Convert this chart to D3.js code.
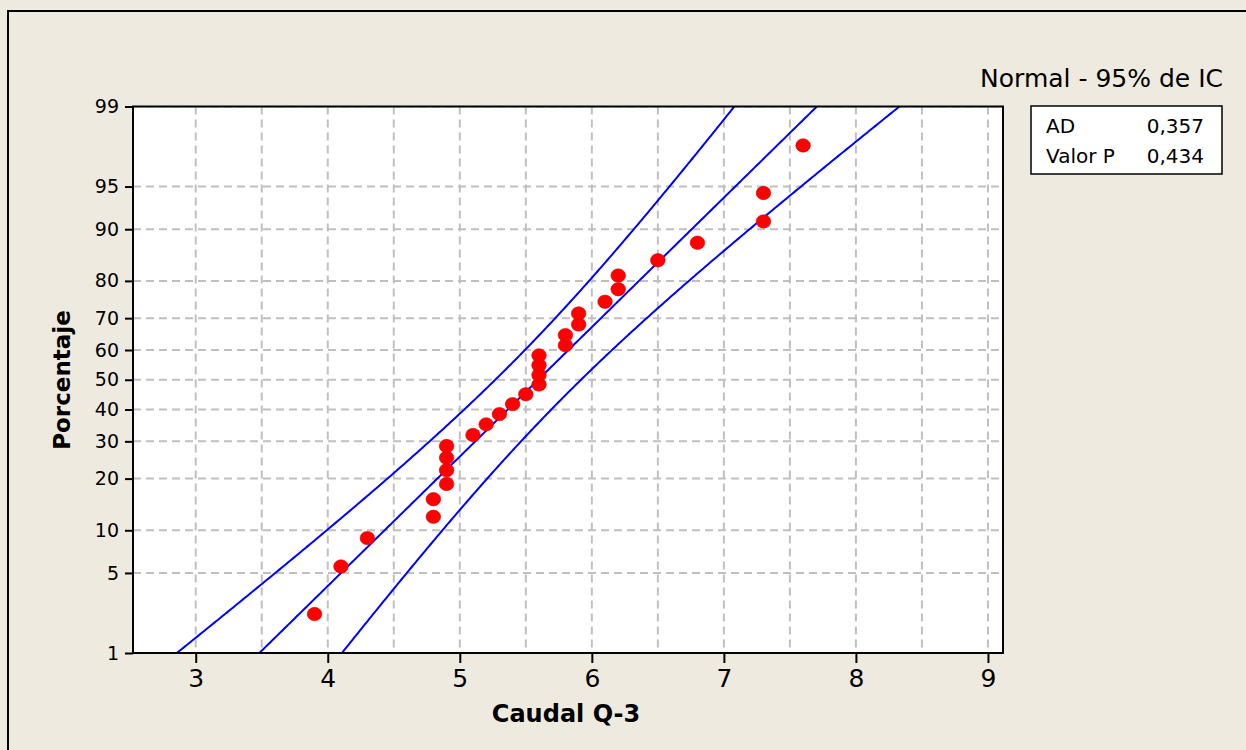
<!DOCTYPE html>
<html>
<head>
<meta charset="utf-8">
<script src="https://cdn.jsdelivr.net/npm/d3@7"></script>
<style>
  html, body { margin: 0; padding: 0; background: #eeeae0; }
  svg { display: block; }
  text { font-family: "DejaVu Sans", Verdana, sans-serif; fill: #000; }
</style>
</head>
<body>
<script>
// Caudal Q-3 observations (sorted)
const caudal = [3.9, 4.1, 4.3, 4.8, 4.8, 4.9, 4.9, 4.9, 4.9, 5.1,
                5.2, 5.3, 5.4, 5.5, 5.6, 5.6, 5.6, 5.6, 5.8, 5.8,
                5.9, 5.9, 6.1, 6.2, 6.2, 6.5, 6.8, 7.3, 7.3, 7.6];
const xTicks = [3, 4, 5, 6, 7, 8, 9];
const xGridStep = 0.5;
const pctTicks = [1, 5, 10, 20, 30, 40, 50, 60, 70, 80, 90, 95, 99];
const statNames = ["AD", "Valor P"];
const statValues = ["0,357", "0,434"];
const titleText = "Normal - 95% de IC";
const xLabel = "Caudal Q-3";
const yLabel = "Porcentaje";
const confLevel = 0.95;

// Inverse of the standard normal CDF (Acklam's rational approximation)
function probit(p) {
  const a = [-3.969683028665376e+01, 2.209460984245205e+02, -2.759285104469687e+02,
             1.383577518672690e+02, -3.066479806614716e+01, 2.506628277459239e+00];
  const b = [-5.447609879822406e+01, 1.615858368580409e+02, -1.556989798598866e+02,
             6.680131188771720e+01, -1.328068155288572e+01];
  const c = [-7.784894002430293e-03, -3.223964580411365e-01, -2.400758277161838e+00,
             -2.549732539343734e+00, 4.374664141464968e+00, 2.938163982698783e+00];
  const d = [7.784695709041462e-03, 3.224671290700398e-01, 2.445134137142996e+00,
             3.754408661907416e+00];
  const plow = 0.02425, phigh = 1 - plow;
  let q, r;
  if (p < plow) {
    q = Math.sqrt(-2 * Math.log(p));
    return (((((c[0]*q+c[1])*q+c[2])*q+c[3])*q+c[4])*q+c[5]) /
           ((((d[0]*q+d[1])*q+d[2])*q+d[3])*q+1);
  }
  if (p <= phigh) {
    q = p - 0.5; r = q * q;
    return (((((a[0]*r+a[1])*r+a[2])*r+a[3])*r+a[4])*r+a[5])*q /
           (((((b[0]*r+b[1])*r+b[2])*r+b[3])*r+b[4])*r+1);
  }
  q = Math.sqrt(-2 * Math.log(1 - p));
  return -(((((c[0]*q+c[1])*q+c[2])*q+c[3])*q+c[4])*q+c[5]) /
          ((((d[0]*q+d[1])*q+d[2])*q+d[3])*q+1);
}

const W = 1246, H = 750;
const plot = { left: 133, right: 1003, top: 106.5, bottom: 653 };

const svg = d3.select("body").append("svg").attr("width", W).attr("height", H);

// outer frame
svg.append("rect").attr("x", 8).attr("y", 11).attr("width", W + 20).attr("height", H + 20)
  .attr("fill", "#eeeae0").attr("stroke", "#000").attr("stroke-width", 2);

const x = d3.scaleLinear().domain([2.525, 9.114]).range([plot.left, plot.right]);
const zMin = probit(pctTicks[0] / 100), zMax = probit(pctTicks[pctTicks.length - 1] / 100);
const y = d3.scaleLinear().domain([zMin, zMax]).range([plot.bottom, plot.top]);

// plot background
svg.append("rect").attr("x", plot.left).attr("y", plot.top)
  .attr("width", plot.right - plot.left).attr("height", plot.bottom - plot.top)
  .attr("fill", "#fff");

svg.append("clipPath").attr("id", "plotClip").append("rect")
  .attr("x", plot.left).attr("y", plot.top)
  .attr("width", plot.right - plot.left).attr("height", plot.bottom - plot.top);

// grid
const grid = svg.append("g").attr("stroke", "#c0c0c0").attr("stroke-width", 2)
  .attr("stroke-dasharray", "8,5").attr("clip-path", "url(#plotClip)");
const xGridVals = d3.range(xTicks[0], xTicks[xTicks.length - 1] + 1e-9, xGridStep);
grid.selectAll(".vg").data(xGridVals).join("line")
  .attr("x1", d => x(d)).attr("x2", d => x(d))
  .attr("y1", plot.top).attr("y2", plot.bottom);
grid.selectAll(".hg").data(pctTicks).join("line")
  .attr("x1", plot.left).attr("x2", plot.right)
  .attr("y1", d => y(probit(d / 100))).attr("y2", d => y(probit(d / 100)));

// normal fit and confidence band for percentiles
const n = caudal.length;
const mu = d3.mean(caudal);
const sd = d3.deviation(caudal);
const zc = probit(1 - (1 - confLevel) / 2);
const zs = d3.range(zMin - 0.05, zMax + 0.05, 0.02);
const fitPts = zs.map(z => ({ z, v: mu + z * sd, se: sd * Math.sqrt(1 / n + z * z / (2 * n)) }));

const line = d3.line().x(d => x(d[0])).y(d => y(d[1]));
const curves = svg.append("g").attr("clip-path", "url(#plotClip)")
  .attr("fill", "none").attr("stroke", "#0000ff").attr("stroke-width", 2);
curves.append("path").attr("d", line(fitPts.map(d => [d.v - zc * d.se, d.z])));
curves.append("path").attr("d", line(fitPts.map(d => [d.v, d.z])));
curves.append("path").attr("d", line(fitPts.map(d => [d.v + zc * d.se, d.z])));

// data points at median ranks
const pts = caudal.slice().sort(d3.ascending).map((v, i) => ({ v, p: (i + 1 - 0.3) / (n + 0.4) }));
svg.append("g").selectAll("ellipse").data(pts).join("ellipse")
  .attr("cx", d => x(d.v)).attr("cy", d => y(probit(d.p)))
  .attr("rx", 7.3).attr("ry", 6.7)
  .attr("fill", "#ff0000").attr("stroke", "#e00000").attr("stroke-width", 0.6);

// axes
const xAxis = svg.append("g").attr("transform", `translate(0,${plot.bottom})`)
  .call(d3.axisBottom(x).tickValues(xTicks).tickSize(10).tickPadding(6).tickFormat(d3.format("d")));
xAxis.select(".domain").remove();
xAxis.selectAll(".tick line").attr("stroke", "#000").attr("stroke-width", 2);
xAxis.selectAll(".tick text").attr("font-size", 25);

const yAxis = svg.append("g").attr("transform", `translate(${plot.left},0)`)
  .call(d3.axisLeft(y).tickValues(pctTicks.map(p => probit(p / 100)))
    .tickSize(8).tickPadding(6).tickFormat((d, i) => pctTicks[i]));
yAxis.select(".domain").remove();
yAxis.selectAll(".tick line").attr("stroke", "#000").attr("stroke-width", 2);
yAxis.selectAll(".tick text").attr("font-size", 19);

// plot border
svg.append("rect").attr("x", plot.left).attr("y", plot.top)
  .attr("width", plot.right - plot.left).attr("height", plot.bottom - plot.top)
  .attr("fill", "none").attr("stroke", "#000").attr("stroke-width", 2);

// axis titles
svg.append("text").attr("x", 566).attr("y", 722).attr("text-anchor", "middle")
  .attr("font-size", 24).attr("font-weight", "bold").text(xLabel);
svg.append("text").attr("transform", "translate(70,380) rotate(-90)")
  .attr("text-anchor", "middle").attr("font-size", 23).attr("font-weight", "bold").text(yLabel);

// title
svg.append("text").attr("x", 1223).attr("y", 87).attr("text-anchor", "end")
  .attr("font-size", 25).text(titleText);

// statistics box
const box = svg.append("g");
box.append("rect").attr("x", 1031).attr("y", 106).attr("width", 191).attr("height", 68)
  .attr("fill", "#fff").attr("stroke", "#000").attr("stroke-width", 1.5);
box.selectAll(".sn").data(statNames).join("text")
  .attr("x", 1046).attr("y", (d, i) => 133 + i * 30).attr("font-size", 20).text(d => d);
box.selectAll(".sv").data(statValues).join("text")
  .attr("x", 1204).attr("y", (d, i) => 133 + i * 30).attr("text-anchor", "end")
  .attr("font-size", 20).text(d => d);
</script>
</body>
</html>
